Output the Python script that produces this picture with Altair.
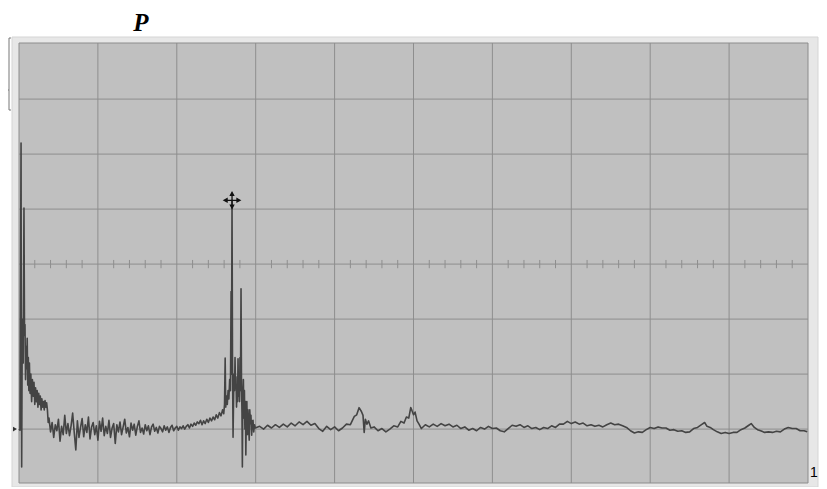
import altair as alt
import pandas as pd

# ---- trace data: frequency (10 divisions x 100) and level (10 units per division, 0 = reference line)
freq_low = [0, 1.2, 2.6, 3.0, 3.4, 4.0, 4.6, 5.3, 6.3, 7.0,
            7.6, 8.3, 9.0, 9.7, 10.4, 11.1, 11.8, 12.5, 13.2, 14.0,
            15, 16, 17, 18, 19, 20, 21, 22, 23, 24,
            25, 26, 27, 28, 29, 30, 31, 32, 33, 34,
            35, 36, 37, 38]
level_low = [0, -0.2, 52, 12, -6.9, 14, 20, 12, 40.2, 17,
             19, 9, 15, 11, 16.5, 8, 13, 7, 12, 6.5,
             10, 5, 9, 6, 8.5, 4.5, 7.5, 5, 7, 4,
             6.5, 4.5, 6, 3.5, 5.5, 4, 5, 3.5, 5.2, 4,
             4.8, 3.5, 1.2, 2.0]

freq_noise = [40, 42, 44, 46, 48, 50, 52, 54, 56, 58,
              60, 62, 64, 66, 68, 70, 72, 74, 76, 78,
              80, 82, 84, 86, 88, 90, 92, 94, 96, 98,
              100, 102, 104, 106, 108, 110, 112, 114, 116, 118,
              120, 122, 124, 126, 128, 130, 132, 134, 136, 138,
              140, 142, 144, 146, 148, 150, 152, 154, 156, 158,
              160, 162, 164, 166, 168, 170, 172, 174, 176, 178,
              180, 182, 184, 186, 188, 190, 192, 194, 196, 198,
              200, 202, 204, 206, 208, 210, 212, 214, 216, 218,
              220, 222, 224, 226, 228]
level_noise = [-0.5, 1.2, -1.5, 0.8, -0.3, 1.8, -2.2, 0.5, -1.0, 2.5,
               -0.8, 1.0, -1.2, 0.6, 2.9, -0.6, -3.8, 1.5, -1.5, 0.3,
               1.9, -1.4, 0.8, -0.6, 2.2, -1.8, 0.4, 1.2, -1.0, 0.6,
               -2.0, 1.4, -0.4, 2.0, -1.2, 0.5, -0.8, 1.6, -1.5, 0.2,
               1.0, -2.6, 0.8, -0.5, 1.3, -1.0, 0.4, 1.8, -0.7, 0.3,
               -1.4, 1.1, -0.2, 0.9, -1.1, 0.5, 1.5, -0.6, 0.2, -0.9,
               0.8, -0.3, 0.6, -1.0, 0.4, 0.9, -0.4, 0.3, -0.7, 0.5,
               0.1, -0.5, 0.6, -0.2, 0.4, -0.6, 0.3, 0.7, -0.3, 0.2,
               0.5, -0.2, 0.4, 0.1, 0.6, 0.0, 0.5, 0.8, 0.2, 0.9,
               0.5, 1.1, 0.7, 1.3, 1.0]

freq_peak = [230, 232, 234, 236, 238, 240, 242, 244, 246, 248,
             250, 252, 254, 256, 258, 259.5, 260.5, 261.3, 262, 263,
             264, 265, 266, 267, 268, 268.8, 269.3, 270, 270.6, 271.3,
             272, 272.6, 273.2, 273.8, 274.4, 275, 275.7, 276.3, 277, 277.6,
             278.2, 278.8, 279.5, 280.1, 280.7, 281.4, 282, 282.6, 283.1, 283.7,
             284.4, 285, 285.7, 286.3, 287, 287.5, 288.2, 288.8, 289.5, 290.2,
             291, 291.8, 292.5, 293.3, 294, 294.9, 295.7, 296.6, 297.5, 298.5,
             299.5, 301]
level_peak = [1.6, 0.8, 1.5, 1.0, 1.8, 1.2, 2.0, 1.5, 2.2, 1.7,
              2.6, 2.0, 3.0, 2.4, 3.5, 2.8, 4.5, 12.9, 4.0, 6.0,
              4.5, 7.0, 5.5, 9.0, 7.0, 25.0, 10, 41.6, 12, -1.5,
              6, 10, 7, 13.0, 8, 9.5, 4, 8, 5, 12.8,
              6, 9, 5, 13, 7, 25.5, 8, 3, -6.9, 6,
              9, 2, 7, 0, 5, -4.7, 3, 5, -1, 3.5,
              0.5, -2, 3.5, 1.0, 2.5, -1.1, 1.5, 1.6, -0.5, 0.8,
              0.2, 0.3]

freq_tail = [305, 310, 315, 320, 325, 330, 335, 340, 345, 350,
             355, 360, 365, 370, 375, 380, 385, 390, 395, 400,
             405, 410, 415, 420, 425, 428, 431, 434, 436, 437.5,
             439, 441, 443, 446, 450, 455, 460, 465, 470, 475,
             480, 484, 488, 491, 494, 496.5, 498, 500, 502, 504.5,
             507, 510, 515, 520, 525, 530, 535, 540, 545, 550,
             555, 560, 565, 570, 575, 580, 585, 590, 595, 600,
             605, 610, 615, 620, 625, 630, 635, 640, 645, 650,
             655, 660, 665, 670, 675, 680, 685, 690, 695, 700,
             705, 710, 715, 720, 725, 730, 735, 740, 745, 750,
             755, 760, 765, 770, 775, 780, 785, 790, 795, 800,
             805, 810, 815, 820, 825, 830, 835, 840, 845, 850,
             855, 860, 865, 869, 872, 876, 880, 885, 890, 895,
             900, 905, 910, 915, 920, 925, 928, 932, 936, 940,
             945, 950, 955, 960, 965, 970, 975, 980, 985, 990,
             995, 999]
level_tail = [0.5, 0.0, 0.7, 0.2, 0.8, 0.3, 0.9, 0.4, 1.1, 0.6,
              1.3, 0.8, 1.4, 0.7, 1.0, 0.1, -0.4, 0.5, -0.1, 0.4,
              -0.3, 0.2, 0.9, 0.8, 2.3, 2.6, 3.9, 3.2, 2.5, -0.6,
              1.8, 0.9, 1.5, 0.2, 0.4, -0.3, 0.1, -0.5, 0.0, 0.6,
              0.4, 1.4, 1.1, 2.2, 2.0, 3.9, 3.4, 2.6, 3.1, 1.5,
              0.9, 0.1, 0.8, 0.4, 0.9, 0.5, 1.0, 0.6, 0.9, 0.4,
              0.7, 0.1, 0.4, -0.2, 0.1, -0.3, 0.3, 0.0, 0.5, 0.1,
              0.2, -0.3, -0.5, 0.1, 0.7, 0.5, 0.8, 0.3, 0.6, 0.1,
              0.3, -0.1, 0.3, 0.1, 0.6, 0.3, 0.9, 0.9, 1.4, 1.0,
              1.3, 0.9, 1.1, 0.6, 0.8, 0.5, 0.7, 0.4, 0.8, 1.1,
              0.8, 0.9, 0.6, 0.3, -0.3, -0.7, -0.5, -0.6, -0.1, 0.3,
              0.1, 0.4, 0.2, 0.2, -0.2, -0.1, -0.4, -0.3, -0.6, -0.5,
              0.1, 0.3, 0.8, 1.2, 0.5, 0.3, -0.1, -0.5, -0.8, -0.6,
              -0.8, -0.6, -0.6, -0.1, 0.2, 0.7, 1.0, 0.3, -0.1, -0.3,
              -0.6, -0.5, -0.6, -0.4, -0.5, 0.0, 0.3, 0.1, 0.1, -0.3,
              -0.3, -0.5]

# cursor (marker) position
cursor_freq = [270]
cursor_level = [41.6]

# graticule
grid_x = [100, 200, 300, 400, 500, 600, 700, 800, 900]
grid_y = [0, 10, 20, 30, 40, 50, 60]
center_level = 30
minor_x = [v for v in range(20, 1000, 20) if v % 100 != 0]

title_text = "P"
corner_text = "1"

trace = pd.DataFrame({
    "freq": freq_low + freq_noise + freq_peak + freq_tail,
    "level": level_low + level_noise + level_peak + level_tail,
})

W, H = 789, 440
XS = alt.Scale(domain=[0, 1000], nice=False, zero=False)
YS = alt.Scale(domain=[-9.8, 70.2], nice=False, zero=False)
one = pd.DataFrame({"a": [0]})

frame = alt.Chart(one).mark_rect(fill="#e7e7e7", stroke="#d5d5d5", strokeWidth=1).encode(
    x=alt.value(-7), x2=alt.value(799), y=alt.value(-6), y2=alt.value(444))

screen = alt.Chart(one).mark_rect(fill="#c0c0c0", stroke="#8c8c8c", strokeWidth=1).encode(
    x=alt.value(0), x2=alt.value(W), y=alt.value(0), y2=alt.value(H))

vgrid = alt.Chart(pd.DataFrame({"gx": grid_x})).mark_rule(color="#8e8e8e", strokeWidth=1).encode(
    x=alt.X("gx:Q", scale=XS, axis=None))

hgrid = alt.Chart(pd.DataFrame({"gy": grid_y})).mark_rule(color="#8e8e8e", strokeWidth=1).encode(
    y=alt.Y("gy:Q", scale=YS, axis=None))

ticks = alt.Chart(pd.DataFrame({"mx": minor_x, "y0": [center_level - 0.75] * len(minor_x),
                                "y1": [center_level + 0.75] * len(minor_x)})).mark_rule(
    color="#8e8e8e", strokeWidth=1).encode(
    x=alt.X("mx:Q", scale=XS, axis=None), y=alt.Y("y0:Q", scale=YS, axis=None), y2="y1:Q")

line = alt.Chart(trace).mark_line(color="#444444", strokeWidth=1.6, interpolate="linear",
                                  strokeJoin="round").encode(
    x=alt.X("freq:Q", scale=XS, axis=None), y=alt.Y("level:Q", scale=YS, axis=None))

cross_path = ("M-1,0L1,0M0,-1L0,1"
              "M-1,0L-0.62,-0.2L-0.62,0.2Z"
              "M1,0L0.62,-0.2L0.62,0.2Z"
              "M0,-1L-0.2,-0.62L0.2,-0.62Z"
              "M0,1L-0.2,0.62L0.2,0.62Z")
cursor = alt.Chart(pd.DataFrame({"cf": cursor_freq, "cl": cursor_level})).mark_point(
    shape=cross_path, size=256, filled=True, fill="#111111", stroke="#111111", strokeWidth=1.3,
    opacity=1).encode(
    x=alt.X("cf:Q", scale=XS, axis=None), y=alt.Y("cl:Q", scale=YS, axis=None))

ref_marker = alt.Chart(pd.DataFrame({"rl": [0]})).mark_point(
    shape="triangle-right", filled=True, size=22, color="#333333", opacity=1).encode(
    x=alt.value(-4), y=alt.Y("rl:Q", scale=YS, axis=None))

bracket = alt.Chart(one).mark_rule(color="#777777", strokeWidth=1).encode(
    x=alt.value(-10), y=alt.value(-5), y2=alt.value(67))
cap_top = alt.Chart(one).mark_rule(color="#777777", strokeWidth=1).encode(
    x=alt.value(-10), x2=alt.value(-8), y=alt.value(-5))
cap_bot = alt.Chart(one).mark_rule(color="#777777", strokeWidth=1).encode(
    x=alt.value(-10), x2=alt.value(-8), y=alt.value(67))
cap_mid = alt.Chart(one).mark_rule(color="#777777", strokeWidth=1).encode(
    x=alt.value(-12), x2=alt.value(-10), y=alt.value(47))

title = alt.Chart(one).mark_text(
    text=title_text, font="Liberation Serif", fontSize=25, fontWeight="bold",
    fontStyle="italic", align="center", baseline="alphabetic", color="#000000").encode(
    x=alt.value(122), y=alt.value(-12))

corner = alt.Chart(one).mark_text(
    text=corner_text, font="Liberation Sans", fontSize=14, align="left",
    baseline="alphabetic", color="#000000").encode(
    x=alt.value(791), y=alt.value(434))

chart = alt.layer(
    frame, screen, vgrid, hgrid, ticks, line, cursor, ref_marker,
    bracket, cap_top, cap_bot, cap_mid, title, corner
).properties(
    width=W, height=H,
    autosize=alt.AutoSizeParams(type="none"),
    padding={"left": 11, "top": 35, "right": 11, "bottom": 4},
    background="#ffffff",
).configure_view(stroke=None)

chart.save("out.html", embed_options={"renderer": "svg", "actions": False})
